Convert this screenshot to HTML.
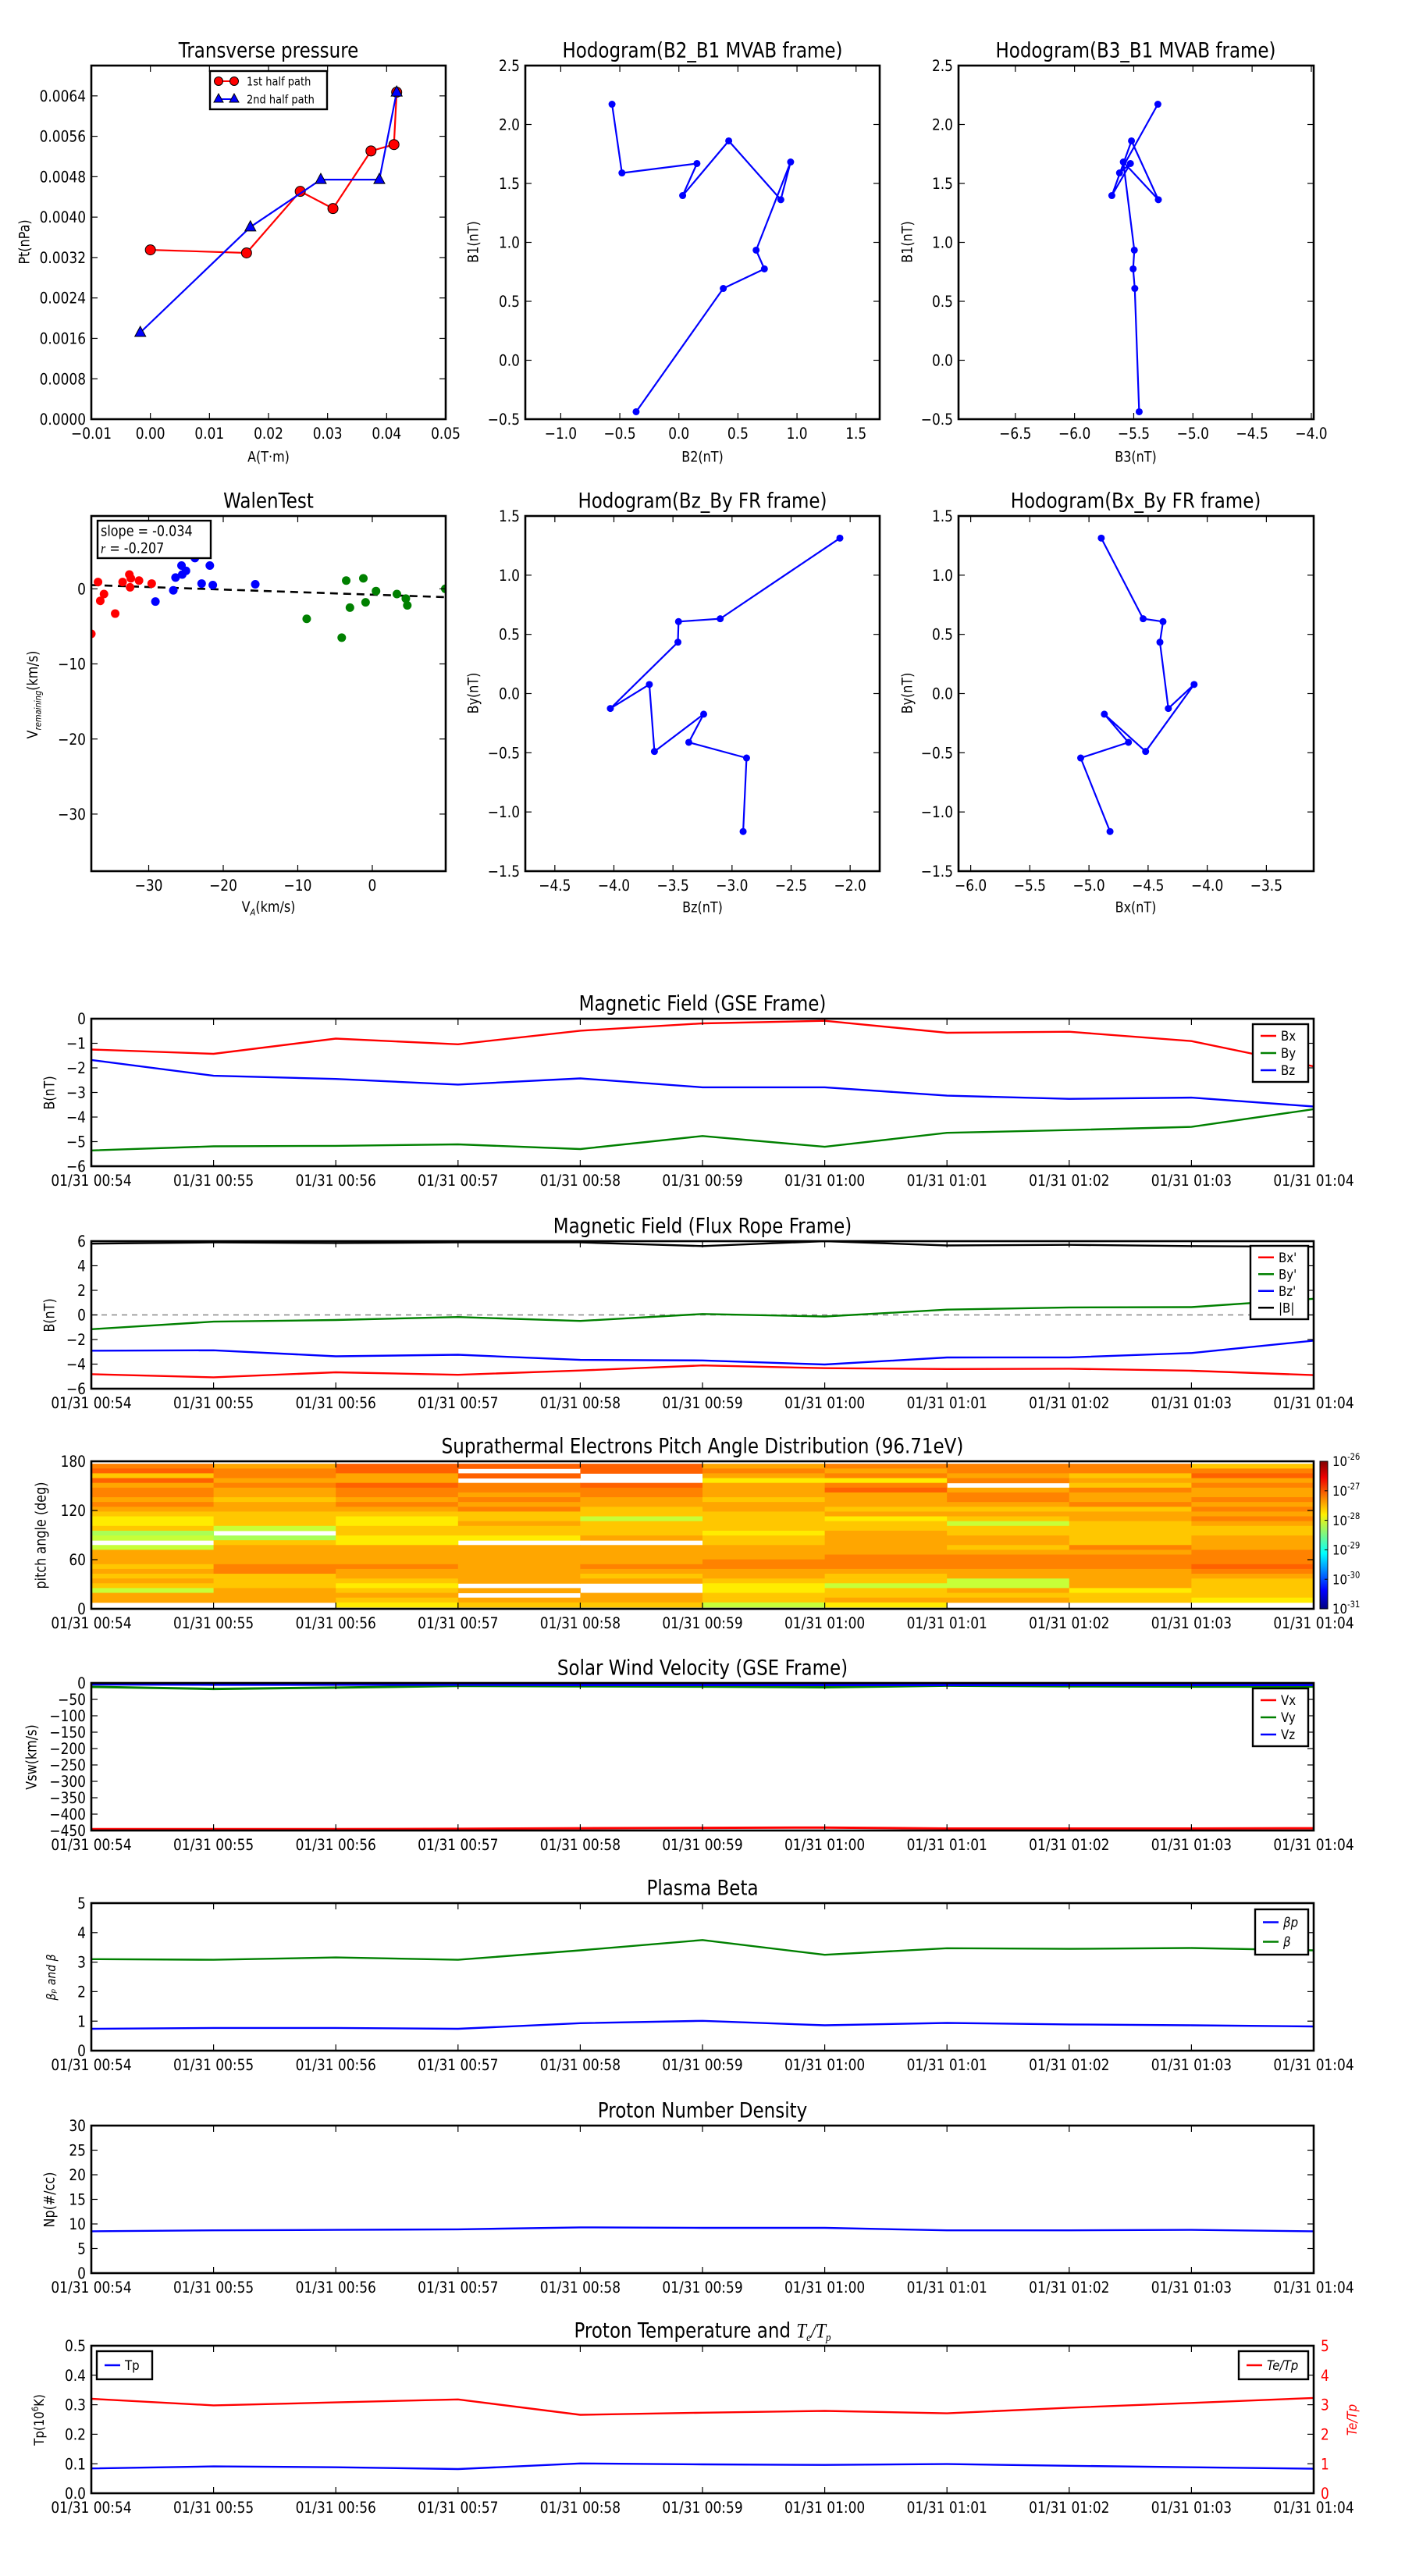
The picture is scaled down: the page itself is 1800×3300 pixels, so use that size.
<!DOCTYPE html>
<html><head><meta charset="utf-8"><style>
html,body{margin:0;padding:0;background:#fff}
svg{display:block}
text{font-family:"DejaVu Sans","Liberation Sans",sans-serif}
</style></head><body>
<svg id="fig" xmlns="http://www.w3.org/2000/svg" width="1800" height="3300" viewBox="0 0 1800 3300"></svg>
<script>
// ---------- DATA ----------
const tpA1 = [0, 0.01628, 0.02537, 0.03091, 0.03735, 0.04124, 0.0417];
const tpP1 = [0.003352, 0.003292, 0.00451, 0.00417, 0.00531, 0.005436, 0.006473];
const tpA2 = [-0.00171, 0.01693, 0.02885, 0.03876, 0.0417];
const tpP2 = [0.001715, 0.003804, 0.004742, 0.004742, 0.006473];

const mvB1 = [-0.437, 0.609, 0.775, 0.934, 1.682, 1.362, 1.861, 1.397, 1.669, 1.589, 2.172];
const mvB2 = [-0.362, 0.376, 0.724, 0.654, 0.946, 0.863, 0.422, 0.032, 0.153, -0.482, -0.566];
const mvB3 = [-5.454, -5.491, -5.505, -5.495, -5.588, -5.292, -5.519, -5.685, -5.528, -5.620, -5.296];

const walenRedX = [-37.7, -36.8, -36, -36.5, -34.5, -33.5, -32.6, -32.4, -32.5, -31.3, -29.6];
const walenRedY = [-6.0, 0.9, -0.7, -1.6, -3.3, 0.9, 1.9, 1.4, 0.2, 1.1, 0.7];
const walenBlueX = [-29.1, -26.7, -26.4, -25.6, -25.5, -25, -23.8, -22.9, -21.8, -21.4, -15.7];
const walenBlueY = [-1.7, -0.2, 1.5, 3.1, 1.9, 2.4, 4.1, 0.7, 3.1, 0.5, 0.6];
const walenGreenX = [-8.8, -4.1, -3.5, -3, -1.2, -0.9, 0.5, 3.3, 4.5, 4.7, 9.8];
const walenGreenY = [-4.0, -6.5, 1.1, -2.5, 1.4, -1.8, -0.3, -0.7, -1.3, -2.2, 0];
const walenFit = [-0.034, -0.78]; // slope, intercept

const frBx = [-4.822, -5.07, -4.666, -4.870, -4.521, -4.111, -4.329, -4.40, -4.374, -4.542, -4.896];
const frBy = [-1.165, -0.544, -0.412, -0.174, -0.489, 0.077, -0.126, 0.434, 0.608, 0.632, 1.313];
const frBz = [-2.906, -2.877, -3.366, -3.24, -3.657, -3.70, -4.03, -3.458, -3.453, -3.10, -2.087];
const frB = [5.8, 5.9, 5.85, 5.9, 5.9, 5.6, 6.0, 5.65, 5.7, 5.6, 5.55];

const timeLabels = ['01/31 00:54','01/31 00:55','01/31 00:56','01/31 00:57','01/31 00:58','01/31 00:59','01/31 01:00','01/31 01:01','01/31 01:02','01/31 01:03','01/31 01:04'];

const gseBx = [-1.255, -1.43, -0.81, -1.04, -0.49, -0.19, -0.085, -0.57, -0.53, -0.91, -1.94];
const gseBy = [-5.36, -5.19, -5.17, -5.11, -5.30, -4.77, -5.21, -4.64, -4.53, -4.40, -3.68];
const gseBz = [-1.68, -2.32, -2.45, -2.68, -2.43, -2.79, -2.79, -3.13, -3.26, -3.21, -3.57];

const padLog = [
[-27.26,-27.1,-27.6,-27.1,-27.44,-27.26,-27.26,-27.44,-27.26,-27.44,-27.6,-27.78,-27.78,-27.6,-28.29,-28.15,null,-28.15,-27.44,-27.44,-27.44,-27.6,-27.44,-27.6,-27.44,-27.6,-28.15,-27.44,-27.44,null],
[-27.44,-27.26,-27.26,-27.44,-27.26,-27.44,-27.44,-27.6,-27.44,-27.44,-27.6,-27.6,-27.6,-28.15,null,-28.29,-27.6,-27.44,-27.44,-27.44,-27.44,-27.26,-27.26,-27.6,-27.6,-27.6,-27.44,-27.44,-27.44,null],
[-27.1,-27.1,-27.44,-27.44,-27.1,-27.26,-27.26,-27.44,-27.26,-27.44,-27.6,-27.78,-27.78,-27.6,-27.6,-27.78,-27.78,-27.44,-27.44,-27.44,-27.44,-27.26,-27.44,-27.44,-27.6,-27.78,-27.6,-27.44,-27.6,-27.78],
[-27.1,null,-27.1,null,-27.26,-27.26,-27.44,-27.26,-27.44,-27.26,-27.6,-27.6,-27.44,-27.6,-27.6,-27.78,null,-27.44,-27.44,-27.44,-27.44,-27.44,-27.44,-27.44,-27.44,null,-27.44,null,-27.44,-27.6],
[-27.1,-27.1,null,null,-27.1,-27.26,-27.26,-27.44,-27.44,-27.6,-27.6,-28.15,-27.6,-27.6,-27.6,-27.44,null,-27.44,-27.44,-27.44,-27.44,-27.26,-27.44,-27.6,-27.44,null,null,-27.44,-27.44,-27.6],
[-27.44,-27.26,-27.44,-27.78,-27.44,-27.44,-27.44,-27.6,-27.44,-27.44,-27.6,-27.6,-27.6,-27.6,-27.78,-27.6,-27.6,-27.44,-27.44,-27.44,-27.26,-27.26,-27.44,-27.44,-27.6,-27.78,-27.78,-27.6,-27.6,-28.15],
[-27.26,-27.44,-27.26,-27.78,-27.26,-27.1,-27.44,-27.44,-27.44,-27.6,-27.44,-27.78,-27.6,-27.6,-27.44,-27.44,-27.44,-27.44,-27.44,-27.26,-27.26,-27.26,-27.44,-27.6,-27.6,-28.15,-27.6,-27.6,-27.44,-27.78],
[-27.26,-27.26,-27.44,-27.26,null,-27.44,-27.26,-27.26,-27.44,-27.6,-27.44,-27.6,-28.15,-27.6,-27.6,-27.44,-27.44,-27.6,-27.44,-27.26,-27.26,-27.26,-27.44,-27.44,-28.15,-28.15,-27.44,-27.6,-27.44,null],
[-27.26,-27.26,-27.6,-27.44,-27.6,-27.26,-27.44,-27.44,-27.26,-27.6,-27.44,-27.44,-27.6,-27.6,-27.6,-27.6,-27.6,-27.26,-27.44,-27.26,-27.26,-27.26,-27.44,-27.44,-27.44,-27.44,-27.78,-27.6,-27.6,null],
[-27.6,-27.26,-27.1,-27.44,-27.26,-27.44,-27.44,-27.26,-27.44,-27.26,-27.44,-27.26,-27.44,-27.6,-27.6,-27.44,-27.44,-27.44,-27.26,-27.26,-27.26,-27.1,-27.26,-27.44,-27.6,-27.6,-27.6,-27.6,-27.78,null]
];
const padCbarLabels = ['-26','-27','-28','-29','-30','-31'];

const swVx = [-446, -446, -446, -445, -443, -442, -441, -444, -444, -444, -443];
const swVy = [-12, -18, -14, -9, -10, -11, -13, -8, -10, -11, -11];
const swVz = [-4, -5, -5, -5, -6, -6, -6, -6, -6, -6, -6];

const betaP = [0.74, 0.77, 0.77, 0.74, 0.93, 1.01, 0.86, 0.94, 0.89, 0.86, 0.82];
const betaT = [3.1, 3.08, 3.16, 3.08, 3.4, 3.75, 3.25, 3.47, 3.45, 3.48, 3.4];

const npDens = [8.5, 8.7, 8.8, 8.9, 9.3, 9.2, 9.2, 8.7, 8.7, 8.8, 8.5];

const tempTp = [0.084, 0.091, 0.088, 0.082, 0.101, 0.098, 0.096, 0.099, 0.093, 0.088, 0.083];
const tempRatio = [3.2, 2.98, 3.08, 3.18, 2.66, 2.73, 2.79, 2.71, 2.9, 3.06, 3.23];

// ---------- HELPERS ----------
const NS = 'http://www.w3.org/2000/svg';
const svg = document.getElementById('fig');
const SY = 1.15;
const TS = 23;
let clipId = 0;
function el(tag, attrs, parent, name) {
  const e = document.createElementNS(NS, tag);
  for (const k in attrs) e.setAttribute(k, attrs[k]);
  
  
  parent.appendChild(e);
  return e;
}
function txt(parent, x, y, s, o, name) {
  o = o || {};
  const t = el('text', {
    x: 0, y: 0, dy: '0.36em',
    'font-size': o.size || 17,
    'text-anchor': o.anchor || 'middle',
    fill: o.color || '#000',
    transform: 'translate(' + x + ',' + y + ') rotate(' + (o.rot || 0) + ') scale(1,' + SY + ')'
  }, parent, name);
  if (o.italic) t.setAttribute('font-style', 'italic');
  if (o.family) t.setAttribute('font-family', o.family);
  t.textContent = s;
  return t;
}
function fmt(v, d) { const s = v.toFixed(d); return v < 0 ? '\u2212' + s.slice(1) : s; }
function range(a, b, st) { const r = []; for (let v = a; v <= b + st * 1e-6; v += st) r.push(+v.toFixed(6)); return r; }

function axes(name, box, xd, yd, xt, xl, yt, yl) {
  const g = el('g', {}, svg, name);
  el('rect', {x: box[0], y: box[1], width: box[2]-box[0], height: box[3]-box[1], fill: '#fff'}, g, name + '-background');
  const X = v => box[0] + (v - xd[0]) / (xd[1] - xd[0]) * (box[2] - box[0]);
  const Y = v => box[3] - (v - yd[0]) / (yd[1] - yd[0]) * (box[3] - box[1]);
  const id = 'clip' + (clipId++);
  const cp = el('clipPath', {id: id}, g, name + '-clip');
  el('rect', {x: box[0], y: box[1], width: box[2]-box[0], height: box[3]-box[1]}, cp, name + '-clip-rect');
  const data = el('g', {'clip-path': 'url(#' + id + ')'}, g, name + '-data');
  const over = el('g', {}, g, name + '-frame-group');
  xt.forEach((v, i) => {
    const x = X(v);
    el('line', {x1: x, x2: x, y1: box[3], y2: box[3]-8, stroke: '#000', 'stroke-width': 1.2}, over, 'x-tick');
    el('line', {x1: x, x2: x, y1: box[1], y2: box[1]+8, stroke: '#000', 'stroke-width': 1.2}, over, 'x-tick');
    txt(over, x, box[3] + 18, xl[i], {size: 17}, 'x-tick-label');
  });
  yt.forEach((v, i) => {
    const y = Y(v);
    el('line', {x1: box[0], x2: box[0]+8, y1: y, y2: y, stroke: '#000', 'stroke-width': 1.2}, over, 'y-tick');
    el('line', {x1: box[2], x2: box[2]-8, y1: y, y2: y, stroke: '#000', 'stroke-width': 1.2}, over, 'y-tick');
    if (yl) txt(over, box[0] - 7, y, yl[i], {size: 17, anchor: 'end'}, 'y-tick-label');
  });
  el('rect', {x: box[0], y: box[1], width: box[2]-box[0], height: box[3]-box[1], fill: 'none', stroke: '#000', 'stroke-width': 2.6}, over, name + '-frame');
  return {g, data, over, X, Y, box};
}
function poly(ax, xs, ys, color, name, w, dash) {
  const pts = xs.map((x, i) => ax.X(x).toFixed(1) + ',' + ax.Y(ys[i]).toFixed(1)).join(' ');
  const p = el('polyline', {points: pts, fill: 'none', stroke: color, 'stroke-width': w || 2.4, 'stroke-linejoin': 'round'}, ax.data, name);
  if (dash) p.setAttribute('stroke-dasharray', dash);
  return p;
}
function dots(ax, xs, ys, color, r, name, stroke) {
  xs.forEach((x, i) => {
    const c = el('circle', {cx: ax.X(x), cy: ax.Y(ys[i]), r: r, fill: color}, ax.data, name);
    if (stroke) { c.setAttribute('stroke', '#000'); c.setAttribute('stroke-width', 1); }
  });
}
function legend(parent, x, y, w, entries, name, rowH) {
  rowH = rowH || 33;
  const g = el('g', {}, parent, name);
  el('rect', {x: x, y: y, width: w, height: entries.length * rowH + 8, fill: '#fff', stroke: '#000', 'stroke-width': 2.4}, g, name + '-box');
  entries.forEach((e, i) => {
    const cy = y + 4 + rowH * (i + 0.5);
    el('line', {x1: x + 10, x2: x + 30, y1: cy, y2: cy, stroke: e[0], 'stroke-width': 2.6}, g, 'legend-swatch');
    txt(g, x + 36, cy, e[1], {size: 15, anchor: 'start', italic: e[2]}, 'legend-label');
  });
  return g;
}
const tIdx = timeLabels.map((_, i) => i);

// ---------- TOP ROW ----------
{
  const ax = axes('transverse-pressure-chart', [117,84,571,537], [-0.01,0.05], [0,0.007],
    range(-0.01,0.05,0.01), range(-0.01,0.05,0.01).map(v=>fmt(v,2)),
    range(0,0.0064,0.0008), range(0,0.0064,0.0008).map(v=>v.toFixed(4)));
  txt(svg, 344, 64, 'Transverse pressure', {size: TS}, 'chart-title');
  txt(svg, 344, 585, 'A(T\u00b7m)', {size: 16}, 'x-axis-title');
  txt(svg, 31, 310, 'Pt(nPa)', {size: 16, rot: -90}, 'y-axis-title');
  poly(ax, tpA1, tpP1, '#ff0000', 'first-half-path-line', 2.2);
  dots(ax, tpA1, tpP1, '#ff0000', 6.5, 'first-half-point', true);
  poly(ax, tpA2, tpP2, '#0000ff', 'second-half-path-line', 2.2);
  tpA2.forEach((a, i) => {
    const x = ax.X(a), y = ax.Y(tpP2[i]);
    el('polygon', {points: (x)+','+(y-8)+' '+(x-7)+','+(y+5)+' '+(x+7)+','+(y+5), fill: '#0000ff', stroke: '#000', 'stroke-width': 1}, ax.data, 'second-half-point');
  });
  const lg = el('g', {}, svg, 'transverse-legend');
  el('rect', {x: 269, y: 91, width: 150, height: 49, fill: '#fff', stroke: '#000', 'stroke-width': 2.4}, lg, 'legend-box');
  el('line', {x1: 280, x2: 300, y1: 104, y2: 104, stroke: '#f00', 'stroke-width': 2}, lg, 'legend-swatch');
  el('circle', {cx: 280, cy: 104, r: 5.5, fill: '#f00', stroke: '#000'}, lg, 'legend-marker');
  el('circle', {cx: 300, cy: 104, r: 5.5, fill: '#f00', stroke: '#000'}, lg, 'legend-marker');
  txt(lg, 316, 104, '1st half path', {size: 13, anchor: 'start'}, 'legend-label');
  el('line', {x1: 280, x2: 300, y1: 127, y2: 127, stroke: '#00f', 'stroke-width': 2}, lg, 'legend-swatch');
  el('polygon', {points: '280,120 274,131 286,131', fill: '#00f', stroke: '#000'}, lg, 'legend-marker');
  el('polygon', {points: '300,120 294,131 306,131', fill: '#00f', stroke: '#000'}, lg, 'legend-marker');
  txt(lg, 316, 127, '2nd half path', {size: 13, anchor: 'start'}, 'legend-label');
}
{
  const ax = axes('hodogram-b2-b1-chart', [673,84,1127,537], [-1.3,1.7], [-0.5,2.5],
    range(-1,1.5,0.5), range(-1,1.5,0.5).map(v=>fmt(v,1)),
    range(-0.5,2.5,0.5), range(-0.5,2.5,0.5).map(v=>fmt(v,1)));
  txt(svg, 900, 64, 'Hodogram(B2_B1 MVAB frame)', {size: TS}, 'chart-title');
  txt(svg, 900, 585, 'B2(nT)', {size: 16}, 'x-axis-title');
  txt(svg, 606, 310, 'B1(nT)', {size: 16, rot: -90}, 'y-axis-title');
  poly(ax, mvB2, mvB1, '#0000ff', 'hodogram-line', 2.2);
  dots(ax, mvB2, mvB1, '#0000ff', 4.5, 'hodogram-point');
}
{
  const ax = axes('hodogram-b3-b1-chart', [1228,84,1683,537], [-6.98,-3.98], [-0.5,2.5],
    range(-6.5,-4,0.5), range(-6.5,-4,0.5).map(v=>fmt(v,1)),
    range(-0.5,2.5,0.5), range(-0.5,2.5,0.5).map(v=>fmt(v,1)));
  txt(svg, 1455, 64, 'Hodogram(B3_B1 MVAB frame)', {size: TS}, 'chart-title');
  txt(svg, 1455, 585, 'B3(nT)', {size: 16}, 'x-axis-title');
  txt(svg, 1162, 310, 'B1(nT)', {size: 16, rot: -90}, 'y-axis-title');
  poly(ax, mvB3, mvB1, '#0000ff', 'hodogram-line', 2.2);
  dots(ax, mvB3, mvB1, '#0000ff', 4.5, 'hodogram-point');
}
// ---------- SECOND ROW ----------
{
  const ax = axes('walen-test-chart', [117,661,571,1116], [-37.7,9.85], [-37.6,9.7],
    [-30,-20,-10,0], ['\u221230','\u221220','\u221210','0'],
    [-30,-20,-10,0], ['\u221230','\u221220','\u221210','0']);
  txt(svg, 344, 641, 'WalenTest', {size: TS}, 'chart-title');
  const xl = el('text', {x: 0, y: 0, 'font-size': 16, 'text-anchor': 'middle', transform: 'translate(344,1168) scale(1,' + SY + ')'}, svg, 'x-axis-title');
  xl.innerHTML = 'V<tspan font-size="10" dy="4" font-style="italic">A</tspan><tspan dy="-4">(km/s)</tspan>';
  const yl = el('text', {x: 0, y: 0, 'font-size': 16, 'text-anchor': 'middle', transform: 'translate(48,890) rotate(-90) scale(1,' + SY + ')'}, svg, 'y-axis-title');
  yl.innerHTML = 'V<tspan font-size="10" dy="4" font-style="italic">remaining</tspan><tspan dy="-4">(km/s)</tspan>';
  const fx = [-37.7, 9.85];
  poly(ax, fx, fx.map(x => walenFit[0] * x + walenFit[1]), '#000', 'fit-line', 2.6, '10,7');
  dots(ax, walenRedX, walenRedY, '#ff0000', 5.5, 'walen-point-red');
  dots(ax, walenBlueX, walenBlueY, '#0000ff', 5.5, 'walen-point-blue');
  dots(ax, walenGreenX, walenGreenY, '#008000', 5.5, 'walen-point-green');
  const bx = el('g', {}, svg, 'walen-stats-box');
  el('rect', {x: 125, y: 667, width: 145, height: 48, fill: '#fff', stroke: '#000', 'stroke-width': 2.4}, bx, 'stats-box');
  txt(bx, 129, 680, 'slope = -0.034', {size: 16, anchor: 'start'}, 'slope-text');
  const rt = el('text', {x: 0, y: 0, dy: '0.36em', 'font-size': 16, transform: 'translate(129,702) scale(1,' + SY + ')'}, bx, 'r-text');
  rt.innerHTML = '<tspan font-style="italic" font-family="Liberation Serif, serif">r</tspan> = -0.207';
}
{
  const ax = axes('hodogram-bz-by-chart', [673,661,1127,1116], [-4.75,-1.75], [-1.5,1.5],
    range(-4.5,-2,0.5), range(-4.5,-2,0.5).map(v=>fmt(v,1)),
    range(-1.5,1.5,0.5), range(-1.5,1.5,0.5).map(v=>fmt(v,1)));
  txt(svg, 900, 641, 'Hodogram(Bz_By FR frame)', {size: TS}, 'chart-title');
  txt(svg, 900, 1162, 'Bz(nT)', {size: 16}, 'x-axis-title');
  txt(svg, 606, 888, 'By(nT)', {size: 16, rot: -90}, 'y-axis-title');
  poly(ax, frBz, frBy, '#0000ff', 'hodogram-line', 2.2);
  dots(ax, frBz, frBy, '#0000ff', 4.5, 'hodogram-point');
}
{
  const ax = axes('hodogram-bx-by-chart', [1228,661,1683,1116], [-6.103,-3.10], [-1.5,1.5],
    range(-6,-3.5,0.5), range(-6,-3.5,0.5).map(v=>fmt(v,1)),
    range(-1.5,1.5,0.5), range(-1.5,1.5,0.5).map(v=>fmt(v,1)));
  txt(svg, 1455, 641, 'Hodogram(Bx_By FR frame)', {size: TS}, 'chart-title');
  txt(svg, 1455, 1162, 'Bx(nT)', {size: 16}, 'x-axis-title');
  txt(svg, 1162, 888, 'By(nT)', {size: 16, rot: -90}, 'y-axis-title');
  poly(ax, frBx, frBy, '#0000ff', 'hodogram-line', 2.2);
  dots(ax, frBx, frBy, '#0000ff', 4.5, 'hodogram-point');
}
// ---------- TIME SERIES ----------
function tpanel(name, top, yd, yt, yl, title, ylab, ylx) {
  const ax = axes(name, [117, top, 1683, top + 189], [0, 10], yd, tIdx, timeLabels, yt, yl);
  txt(svg, 900, top - 20, title, {size: TS}, 'chart-title');
  if (ylab) txt(svg, ylx || 63, top + 95, ylab, {size: 16, rot: -90}, 'y-axis-title');
  return ax;
}
{
  const ax = tpanel('magnetic-field-gse-chart', 1305, [-6,0], range(-6,0,1), range(-6,0,1).map(v=>fmt(v,0)), 'Magnetic Field (GSE Frame)', 'B(nT)');
  poly(ax, tIdx, gseBx, '#ff0000', 'bx-line');
  poly(ax, tIdx, gseBy, '#008000', 'by-line');
  poly(ax, tIdx, gseBz, '#0000ff', 'bz-line');
  legend(svg, 1605, 1312, 71, [['#f00','Bx'],['#008000','By'],['#00f','Bz']], 'gse-legend', 22);
}
{
  const ax = tpanel('magnetic-field-flux-rope-chart', 1590, [-6,6], range(-6,6,2), range(-6,6,2).map(v=>fmt(v,0)), 'Magnetic Field (Flux Rope Frame)', 'B(nT)');
  poly(ax, [0,10], [0,0], '#888', 'zero-line', 1.4, '7,6');
  poly(ax, tIdx, frBx, '#ff0000', 'bx-prime-line');
  poly(ax, tIdx, frBy, '#008000', 'by-prime-line');
  poly(ax, tIdx, frBz, '#0000ff', 'bz-prime-line');
  poly(ax, tIdx, frB, '#000000', 'b-magnitude-line');
  legend(svg, 1602, 1596, 74, [['#f00',"Bx'"],['#008000',"By'"],['#00f',"Bz'"],['#000','|B|']], 'flux-rope-legend', 21.5);
}
{
  const top = 1872;
  const ax = tpanel('pitch-angle-chart', top, [0,180], [0,60,120,180], ['0','60','120','180'], 'Suprathermal Electrons Pitch Angle Distribution (96.71eV)', 'pitch angle (deg)', 52);
  const jet = t => {
    const c = v => Math.round(255 * Math.max(0, Math.min(1, v)));
    return 'rgb(' + c(1.5 - Math.abs(4*t - 3)) + ',' + c(1.5 - Math.abs(4*t - 2)) + ',' + c(1.5 - Math.abs(4*t - 1)) + ')';
  };
  const nRows = padLog[0].length, pTop = 177, pBot = 2, dP = (pTop - pBot) / nRows;
  padLog.forEach((col, ci) => {
    col.forEach((v, ri) => {
      if (v === null) return;
      const x0 = ax.X(ci), x1 = ax.X(ci + 1);
      const y0 = ax.Y(pTop - ri * dP), y1 = ax.Y(pTop - (ri + 1) * dP);
      el('rect', {x: x0, y: y0, width: x1 - x0 + 0.5, height: y1 - y0 + 0.5, fill: jet((v + 31) / 5)}, ax.data, 'pad-cell');
    });
  });
  ax.g.appendChild(ax.over);
  const cb = el('g', {}, svg, 'pad-colorbar');
  const gr = el('linearGradient', {id: 'jetgrad', x1: 0, y1: 1, x2: 0, y2: 0}, cb, 'jet-gradient');
  [0,0.11,0.125,0.34,0.35,0.375,0.64,0.65,0.66,0.89,0.91,1].forEach(t => {
    el('stop', {offset: t, 'stop-color': jet(t)}, gr, 'gradient-stop');
  });
  el('rect', {x: 1691, y: top, width: 10, height: 189, fill: 'url(#jetgrad)', stroke: '#000', 'stroke-width': 1}, cb, 'colorbar-bar');
  padCbarLabels.forEach((s, i) => {
    const y = top + i * 189 / 5;
    el('line', {x1: 1697, x2: 1701, y1: y, y2: y, stroke: '#000'}, cb, 'colorbar-tick');
    const t = el('text', {x: 0, y: 0, dy: '0.36em', 'font-size': 15, transform: 'translate(1707,' + y + ') scale(1,' + SY + ')'}, cb, 'colorbar-label');
    t.innerHTML = '10<tspan font-size="10" dy="-7">' + s + '</tspan>';
  });
}
{
  const ax = tpanel('solar-wind-velocity-chart', 2156, [-450,0], range(-450,0,50), range(-450,0,50).map(v=>fmt(v,0)), 'Solar Wind Velocity (GSE Frame)', 'Vsw(km/s)', 40);
  poly(ax, tIdx, swVx, '#ff0000', 'vx-line', 3);
  poly(ax, tIdx, swVy, '#008000', 'vy-line', 3);
  poly(ax, tIdx, swVz, '#0000ff', 'vz-line', 3);
  legend(svg, 1605, 2163, 71, [['#f00','Vx'],['#008000','Vy'],['#00f','Vz']], 'solar-wind-legend', 22);
}
{
  const ax = tpanel('plasma-beta-chart', 2438, [0,5], range(0,5,1), range(0,5,1).map(v=>fmt(v,0)), 'Plasma Beta', null);
  txt(svg, 65, 2533, '\u03b2\u209a and \u03b2', {size: 14, rot: -90, italic: true}, 'y-axis-title');
  poly(ax, tIdx, betaP, '#0000ff', 'beta-p-line');
  poly(ax, tIdx, betaT, '#008000', 'beta-line');
  legend(svg, 1608, 2446, 68, [['#00f','\u03b2p',true],['#008000','\u03b2',true]], 'beta-legend', 25);
}
{
  const ax = tpanel('proton-density-chart', 2723, [0,30], range(0,30,5), range(0,30,5).map(v=>fmt(v,0)), 'Proton Number Density', 'Np(#/cc)');
  poly(ax, tIdx, npDens, '#0000ff', 'density-line');
}
{
  const top = 3005;
  const ax = axes('proton-temperature-chart', [117, top, 1683, top + 189], [0, 10], [0, 0.5], tIdx, timeLabels, range(0,0.5,0.1), range(0,0.5,0.1).map(v=>v.toFixed(1)));
  const tt = el('text', {x: 0, y: 0, dy: '0.36em', 'font-size': TS, 'text-anchor': 'middle', transform: 'translate(900,' + (top - 20) + ') scale(1,' + SY + ')'}, svg, 'chart-title');
  tt.innerHTML = 'Proton Temperature and <tspan font-style="italic" font-family="Liberation Serif, serif">T<tspan font-size="13" dy="4">e</tspan><tspan dy="-4">/T</tspan><tspan font-size="13" dy="4">p</tspan></tspan>';
  const yl = el('text', {x: 0, y: 0, 'font-size': 15, 'text-anchor': 'middle', transform: 'translate(56,' + (top + 95) + ') rotate(-90) scale(1,' + SY + ')'}, svg, 'y-axis-title');
  yl.innerHTML = 'Tp(10<tspan font-size="10" dy="-6">6</tspan><tspan dy="6">K)</tspan>';
  const Yr = v => ax.box[3] - v / 5 * 189;
  [0,1,2,3,4,5].forEach(v => {
    txt(svg, 1692, Yr(v), String(v), {size: 17, anchor: 'start', color: '#f00'}, 'right-y-tick-label');
  });
  const rl = el('text', {x: 0, y: 0, 'font-size': 15, 'text-anchor': 'middle', fill: '#f00', 'font-style': 'italic', 'font-family': 'Liberation Serif, serif', transform: 'translate(1738,' + (top + 95) + ') rotate(-90) scale(1,' + SY + ')'}, svg, 'right-y-axis-title');
  rl.textContent = 'Te/Tp';
  poly(ax, tIdx, tempTp, '#0000ff', 'tp-line');
  poly(ax, tIdx, tempRatio.map(v => v / 10), '#ff0000', 'te-tp-ratio-line');
  legend(svg, 124, 3012, 71, [['#00f','Tp']], 'tp-legend', 28);
  legend(svg, 1587, 3012, 89, [['#f00','Te/Tp',true]], 'ratio-legend', 28);
}
</script>
</body></html>
